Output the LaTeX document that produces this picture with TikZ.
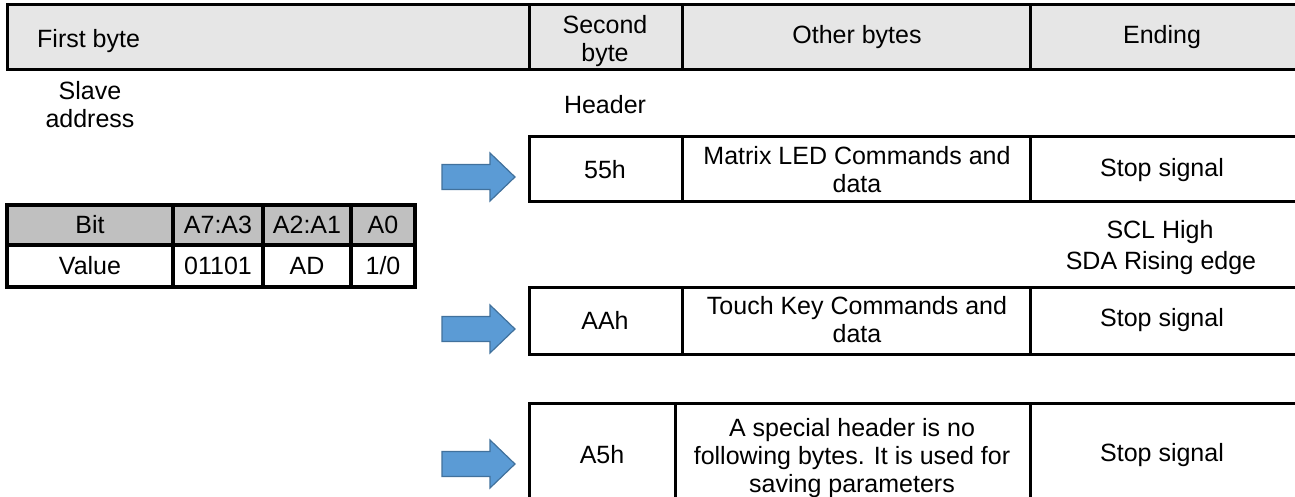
\documentclass[tikz,border=0pt]{standalone}
\usepackage{fontspec}
\setmainfont{Liberation Sans}
\definecolor{hdrgray}{HTML}{E6E6E6}
\definecolor{bitgray}{HTML}{C0C0C0}
\definecolor{arrowblue}{HTML}{5B9BD5}
\definecolor{arrowedge}{HTML}{41719C}
\begin{document}
\begin{tikzpicture}[x=1pt,y=-1pt,
  txt/.style={font=\fontsize{25}{28}\selectfont, inner sep=0pt, align=center},
  gridline/.style={line width=3pt, line join=miter},
  bitline/.style={line width=4pt, line join=miter},
  blockarrow/.style={fill=arrowblue, draw=arrowedge, line width=1.2pt, line join=miter}]
\useasboundingbox (0,0) rectangle (1295,497);
\clip (0,0) rectangle (1295,497);

% header row
\draw[gridline, fill=hdrgray] (7,5) rectangle (1320,70);
\draw[gridline] (529,5) -- (529,70) (682,5) -- (682,70) (1030,5) -- (1030,70);
\node[txt, anchor=base west] (hfirst) at (37,48) {First byte};
\node[txt] (hsecond) at (605,41) {Second\\byte};
\node[txt] (hother) at (857,37) {Other bytes};
\node[txt] (hend) at (1162,37) {Ending};

% labels
\node[txt] (slave) at (90,105) {Slave\\address};
\node[txt] (header) at (605,105) {Header};

% bit table
\fill[bitgray] (7,205) rectangle (415,245);
\draw[bitline] (7,205) rectangle (415,287);
\draw[bitline] (7,245) -- (415,245)
  (173,205) -- (173,287) (263,205) -- (263,287) (351,205) -- (351,287);
\node[txt] (bbit) at (90,225) {Bit};
\node[txt] (ba73) at (218,225) {A7:A3};
\node[txt] (ba21) at (307,225) {A2:A1};
\node[txt] (ba0) at (383,225) {A0};
\node[txt] (bval) at (90,266) {Value};
\node[txt] (bv73) at (218,266) {01101};
\node[txt] (bv21) at (307,266) {AD};
\node[txt] (bv0) at (383,266) {1/0};

% row 55h
\draw[gridline] (529,137) rectangle (1320,202);
\draw[gridline] (682,137) -- (682,202) (1030,137) -- (1030,202);
\node[txt] (r1a) at (605,170) {55h};
\node[txt] (r1b) at (857,170) {Matrix LED Commands and\\data};
\node[txt] (r1c) at (1162,170) {Stop signal};

\node[txt] (scl) at (1160,232) {SCL High};
\node[txt] (sda) at (1161,263) {SDA Rising edge};

% row AAh
\draw[gridline] (529,287) rectangle (1320,354);
\draw[gridline] (682,287) -- (682,354) (1030,287) -- (1030,354);
\node[txt] (r2a) at (605,320) {AAh};
\node[txt] (r2b) at (857,320) {Touch Key Commands and\\data};
\node[txt] (r2c) at (1162,320) {Stop signal};

% row A5h
\draw[gridline] (529,403) rectangle (1320,530);
\draw[gridline] (675,403) -- (675,530) (1030,403) -- (1030,530);
\node[txt] (r3a) at (602,455) {A5h};
\node[txt] (r3b) at (852,458) {A special header is no\\following bytes. It is used for\\saving parameters};
\node[txt] (r3c) at (1162,455) {Stop signal};

% block arrows
\draw[blockarrow] (442,164.5) -- (490,164.5) -- (490,153) -- (515,177) -- (490,201) -- (490,189.5) -- (442,189.5) -- cycle;
\draw[blockarrow] (442,316.5) -- (490,316.5) -- (490,305) -- (515,329) -- (490,353) -- (490,341.5) -- (442,341.5) -- cycle;
\draw[blockarrow] (442,451.5) -- (490,451.5) -- (490,440) -- (515,464) -- (490,488) -- (490,476.5) -- (442,476.5) -- cycle;
\end{tikzpicture}
\end{document}
